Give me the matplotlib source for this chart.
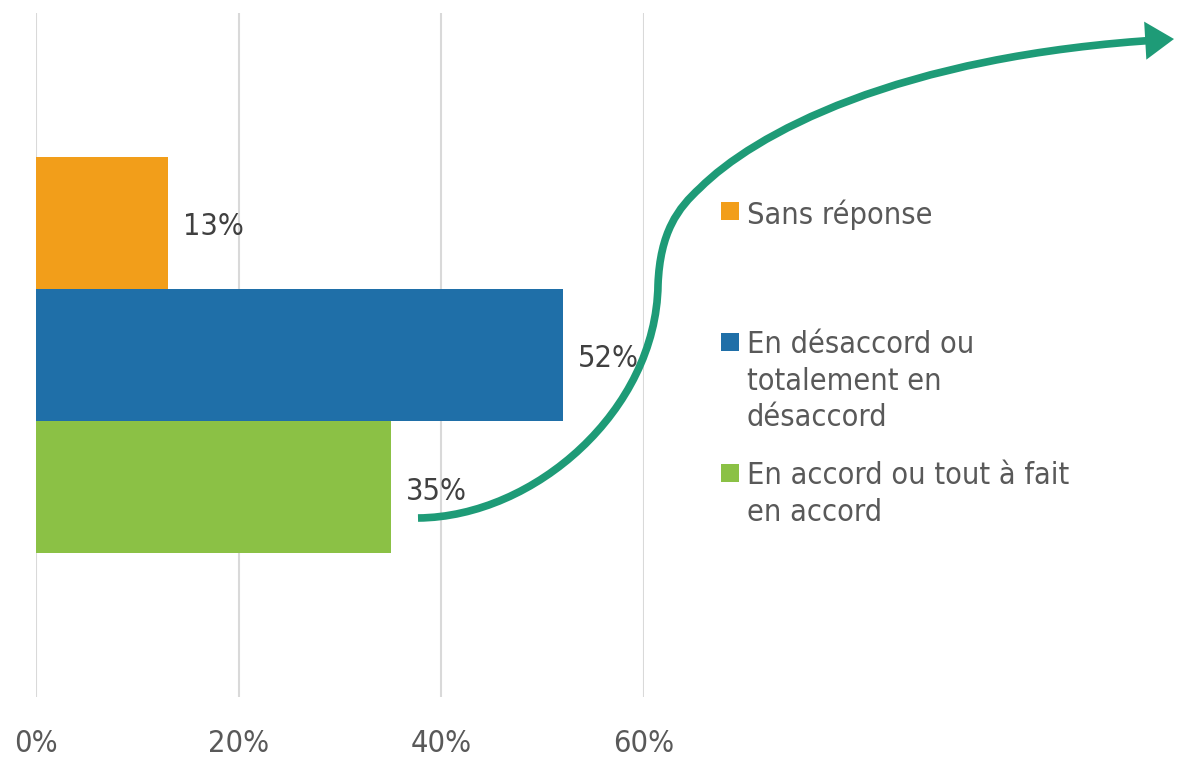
import matplotlib
matplotlib.use("Agg")
import matplotlib.pyplot as plt
from matplotlib import font_manager
from matplotlib.patches import Rectangle, FancyArrowPatch
from matplotlib.path import Path

# ---- data ----
series = ["Sans réponse", "En désaccord ou\ntotalement en\ndésaccord",
          "En accord ou tout à fait\nen accord"]
values = [0.13, 0.52, 0.35]
colors = ["#F29E1A", "#1F6FA8", "#8BC145"]
ticks = [0.0, 0.2, 0.4, 0.6]
tick_labels = ["0%", "20%", "40%", "60%"]

# use the condensed DejaVu cut when it is installed
FONT = dict(family="DejaVu Sans")
for f in font_manager.fontManager.ttflist:
    if f.name == "DejaVu Sans" and f.stretch == "condensed" and f.weight in (400, "normal"):
        FONT = dict(family="DejaVu Sans", stretch="condensed")
        break
condensed = "stretch" in FONT
FS = 22 if condensed else 19.5

W, H = 1177, 758
fig = plt.figure(figsize=(W / 100, H / 100), dpi=100)
fig.patch.set_facecolor("white")

# plot area in pixels: x 36..644, y 13..697
ax = fig.add_axes([36 / W, 1 - 697 / H, (644 - 36) / W, (697 - 13) / H])
ax.set_xlim(0, 0.6)
ax.set_ylim(-2.59, 2.59)

ypos = [1, 0, -1]
ax.barh(ypos, values, height=1.0, color=colors, zorder=2)

for y, v in zip(ypos, values):
    ax.text(v + 0.015, y - 0.03, f"{v:.0%}", ha="left", va="center",
            fontsize=FS, color="#404040", zorder=3, **FONT)

ax.set_xticks(ticks)
ax.set_xticklabels(tick_labels, color="#595959", fontsize=FS, **FONT)
ax.tick_params(axis="x", length=0, pad=23)
ax.set_yticks([])
ax.grid(axis="x", color="#D9D9D9", linewidth=1.5, zorder=0)
ax.set_axisbelow(True)
for s in ax.spines.values():
    s.set_visible(False)

# legend, drawn by hand to keep the spaced slots
leg_y = [211, 342, 473]
for name, c, yy in zip(series, colors, leg_y):
    fig.patches.append(Rectangle((721 / W, 1 - (yy + 9) / H), 18 / W, 18 / H,
                                 transform=fig.transFigure, facecolor=c,
                                 edgecolor="none"))
    fig.text(747 / W, 1 - (yy - 12) / H, name, ha="left", va="top",
             fontsize=FS, color="#595959", linespacing=1.33, **FONT)

# sweeping arrow
def px(x, y):
    return (x / W, 1 - y / H)

verts = [px(418, 518), px(535, 517), px(656, 410), px(658, 285),
         px(660, 232), px(678, 208), px(700, 188),
         px(752, 136), px(895, 55), px(1174, 39)]
codes = [Path.MOVETO] + [Path.CURVE4] * 9
arrow = FancyArrowPatch(path=Path(verts, codes), transform=fig.transFigure,
                        arrowstyle="-|>,head_length=0.65,head_width=0.43",
                        mutation_scale=20, color="#1E9B77", linewidth=5.5,
                        joinstyle="miter", capstyle="butt", zorder=10)
fig.patches.append(arrow)

fig.savefig("out.png", dpi=100, facecolor="white")
